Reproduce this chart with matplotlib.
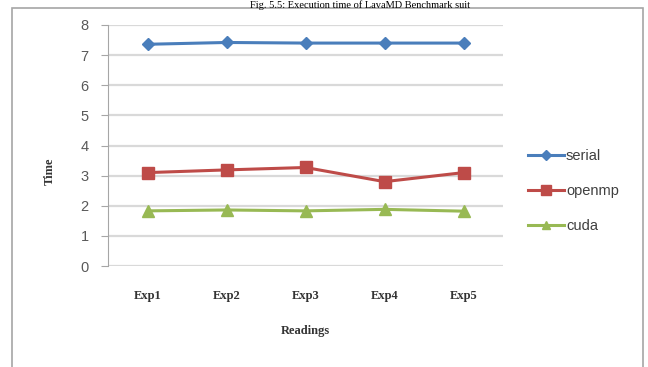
import matplotlib.pyplot as plt
from matplotlib.patches import Rectangle

# data
readings = ["Exp1", "Exp2", "Exp3", "Exp4", "Exp5"]
serial = [7.36, 7.42, 7.40, 7.40, 7.40]
openmp = [3.10, 3.19, 3.27, 2.80, 3.10]
cuda = [1.83, 1.86, 1.83, 1.88, 1.82]
y_ticks = [0, 1, 2, 3, 4, 5, 6, 7, 8]

W, H = 648, 367
fig = plt.figure(figsize=(6.48, 3.67), dpi=100)

# outer frame of the chart area
fig.patches.append(Rectangle((12 / W, -0.01), (643 - 12) / W, 1 - 8 / H + 0.01,
                             transform=fig.transFigure, fill=False,
                             edgecolor="#a6a6a6", linewidth=1.2))

# caption at the very top (cut off in the source scan)
fig.text(360 / W, 1 - 0.5 / H, "Fig. 5.5: Execution time of LavaMD Benchmark suit",
         ha="center", va="top", fontsize=7.5, family="Liberation Serif")

ax = fig.add_axes([108 / W, 1 - 266 / H, (503 - 108) / W, (266 - 25) / H])
x = range(len(readings))
ax.plot(x, serial, color="#4a7ebb", marker="D", markersize=6, linewidth=2.2, label="serial")
ax.plot(x, openmp, color="#be4b48", marker="s", markersize=9, linewidth=2.2, label="openmp")
ax.plot(x, cuda, color="#98b954", marker="^", markersize=8, linewidth=2.2, label="cuda")

ax.set_xlim(-0.5, len(readings) - 0.5)
ax.set_ylim(0, 8)
ax.set_yticks(y_ticks)
ax.set_yticklabels([str(t) for t in y_ticks], color="#595959", fontsize=10.5,
                   family="Liberation Sans")
ax.set_xticks(list(x))
ax.set_xticklabels(readings, fontsize=9, fontweight="bold", family="Liberation Serif",
                   color="#333333")
ax.tick_params(axis="x", length=0, pad=17)
ax.tick_params(axis="y", length=5, color="#a6a6a6", pad=9)
ax.grid(axis="y", color="#d9d9d9", linewidth=1.6)
ax.set_axisbelow(True)
for s in ["top", "right", "bottom"]:
    ax.spines[s].set_visible(False)
ax.spines["left"].set_color("#a6a6a6")

ax.set_xlabel("Readings", fontsize=9, fontweight="bold", family="Liberation Serif",
              color="#333333", labelpad=17)
ax.set_ylabel("Time", fontsize=9, fontweight="bold", family="Liberation Serif",
              color="#333333")
ax.yaxis.set_label_coords(-0.133, 0.394)

leg = ax.legend(loc="center left", bbox_to_anchor=(1.03, 0.31), frameon=False,
                labelspacing=1.45, handlelength=2.5, handletextpad=0.1,
                markerscale=0.8, prop={"family": "Liberation Sans", "size": 10.5})
for t in leg.get_texts():
    t.set_color("#404040")

fig.savefig("out.png", dpi=100)
